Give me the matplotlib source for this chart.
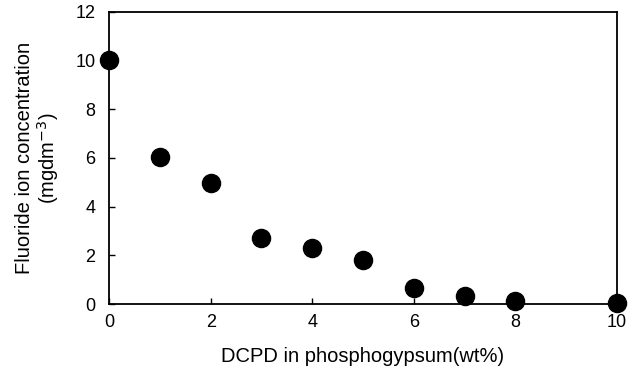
import matplotlib
matplotlib.use("Agg")
import matplotlib.pyplot as plt

plt.rcParams['font.family'] = ['Liberation Sans', 'DejaVu Sans']

# DCPD content (wt%) and fluoride ion concentration (mg dm-3)
dcpd = [0, 1, 2, 3, 4, 5, 6, 7, 8, 10]
fluoride = [10.03, 6.03, 4.96, 2.71, 2.30, 1.81, 0.64, 0.33, 0.11, 0.05]

fig = plt.figure(figsize=(6.42, 3.82), dpi=100)
ax = fig.add_axes([0.170, 0.204, 0.791, 0.765])

ax.scatter(dcpd, fluoride, s=170, c='black', zorder=3, clip_on=False)

ax.set_xlim(0, 10)
ax.set_ylim(0, 12)
ax.set_xticks(range(0, 11, 2))
ax.set_yticks(range(0, 13, 2))
ax.tick_params(direction='in', length=4, width=1, labelsize=13, pad=7)
ax.tick_params(axis='y', pad=10)
for sp in ax.spines.values():
    sp.set_linewidth(1.3)

ax.set_xlabel("DCPD in phosphogypsum(wt%)", fontsize=14.5, labelpad=12)
ax.set_ylabel("Fluoride ion concentration\n(mgdm$^{-3}$)", fontsize=14.5,
              labelpad=10, linespacing=1.05)

plt.savefig("out.png", dpi=100)
